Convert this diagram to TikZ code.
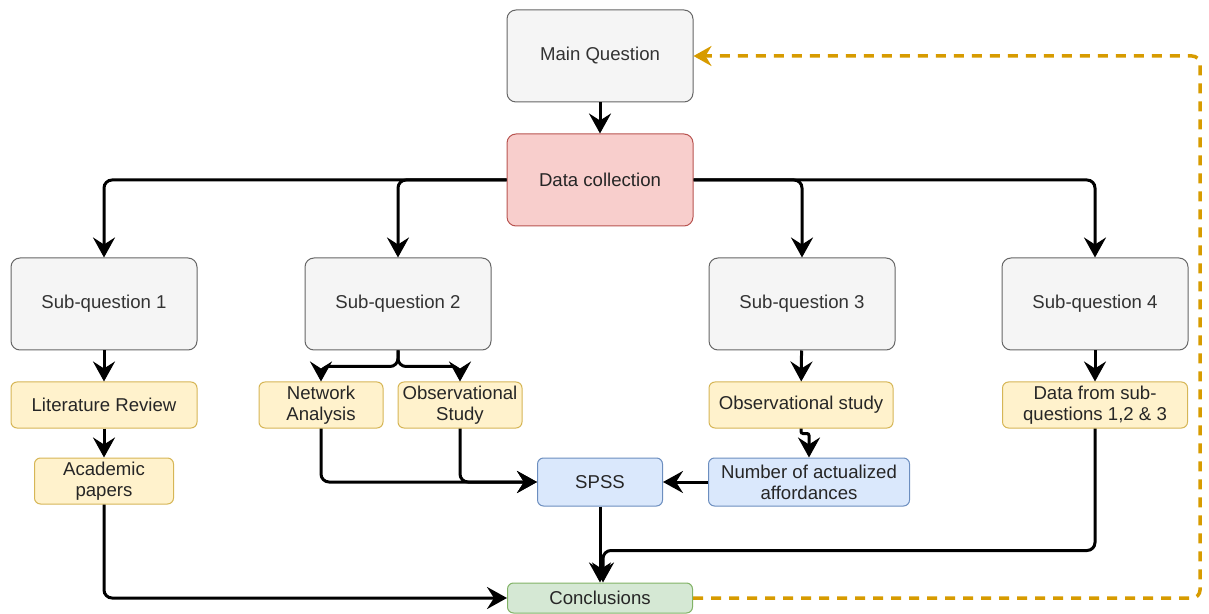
\documentclass[tikz,border=0pt]{standalone}
\usepackage{fontspec}
\setmainfont{Liberation Sans}
\usetikzlibrary{arrows.meta}
\definecolor{qfill}{HTML}{F5F5F5}
\definecolor{qline}{HTML}{666666}
\definecolor{qtext}{HTML}{333333}
\definecolor{rfill}{HTML}{F8CECC}
\definecolor{rline}{HTML}{B85450}
\definecolor{yfill}{HTML}{FFF2CC}
\definecolor{yline}{HTML}{D6B656}
\definecolor{bfill}{HTML}{DAE8FC}
\definecolor{bline}{HTML}{6C8EBF}
\definecolor{gfill}{HTML}{D5E8D4}
\definecolor{gline}{HTML}{82B366}
\definecolor{loopcol}{HTML}{D79B00}
\tikzset{
  every node/.style={font=\fontsize{9.3}{10.5}\selectfont, align=center, inner sep=1pt, line width=0.5pt},
  question/.style={draw=qline, fill=qfill, text=qtext, rounded corners=4.5pt, minimum width=93pt, minimum height=46pt},
  collect/.style={question, draw=rline, fill=rfill, text=black!85},
  method/.style={draw=yline, fill=yfill, text=black!85, rounded corners=3pt, minimum height=23pt},
  result/.style={method, draw=bline, fill=bfill},
  final/.style={method, draw=gline, fill=gfill, minimum height=15pt},
  flow/.style={line width=1.5pt, rounded corners=4pt, -{Stealth[length=10pt,width=11pt,inset=3.5pt]}},
  feedback/.style={line width=1.75pt, loopcol, dash pattern=on 5pt off 4pt, rounded corners=4pt, -{Stealth[length=9pt,width=10pt,inset=3pt]}}
}
\begin{document}
\begin{tikzpicture}[x=0.5pt,y=-0.5pt]
    \useasboundingbox (0,0) rectangle (1209,614);
    %% Top
    \node[question] (main) at (600,56) {Main Question};
    \node[collect] (coll) at (600,180) {Data collection};
    %% Sub-questions
    \node[question] (sq1) at (104,304) {Sub-question 1};
    \node[question] (sq2) at (398,304) {Sub-question 2};
    \node[question] (sq3) at (802,304) {Sub-question 3};
    \node[question] (sq4) at (1095,304) {Sub-question 4};
    %% Methods
    \node[method, minimum width=93pt] (litrev) at (104,405) {Literature Review};
    \node[method, minimum width=69.5pt] (papers) at (104,481) {Academic\\papers};
    \node[method, minimum width=62pt] (netan) at (321,405) {Network\\Analysis};
    \node[method, minimum width=62pt] (obs2) at (460,405) {Observational\\Study};
    \node[method, minimum width=92pt] (obs3) at (801,405) {Observational study};
    \node[method, minimum width=92.5pt] (subdata) at (1095,405) {Data from sub-\\questions 1,2 \& 3};
    %% Results
    \node[result, minimum width=62.5pt, minimum height=24pt] (spss) at (600,482) {SPSS};
    \node[result, minimum width=100.5pt, minimum height=24pt] (actual) at (809,482) {Number of actualized\\affordances};
    \node[final, minimum width=92.5pt] (concl) at (600,598) {Conclusions};
    %% Arrows
    \draw[flow] (main) -- (coll);
    \draw[flow] (coll.west) -| (sq1.north);
    \draw[flow] (coll.west) -| (sq2.north);
    \draw[flow] (coll.east) -| (sq3.north);
    \draw[flow] (coll.east) -| (sq4.north);
    \draw[flow] (sq1) -- (litrev);
    \draw[flow] (litrev) -- (papers);
    \draw[flow] (sq2.south) -- ++(0,16) -| (netan.north);
    \draw[flow] (sq2.south) -- ++(0,16) -| (obs2.north);
    \draw[flow] (sq3) -- (obs3);
    \draw[flow, rounded corners=1pt] (obs3.south) -- ++(0,5) -| (actual.north);
    \draw[flow] (sq4) -- (subdata);
    \draw[flow] (netan.south) |- (spss.west);
    \draw[flow] (obs2.south) |- (spss.west);
    \draw[flow] (actual) -- (spss);
    \draw[flow] (spss) -- (concl);
    \draw[flow] (subdata.south) -- ++(0,122) -| ([xshift=1.5pt]concl.north);
    \draw[flow] (papers.south) |- (concl.west);
    %% Feedback loop
    \draw[feedback] (concl.east) -- ++(507,0) |- (main.east);
\end{tikzpicture}
\end{document}
